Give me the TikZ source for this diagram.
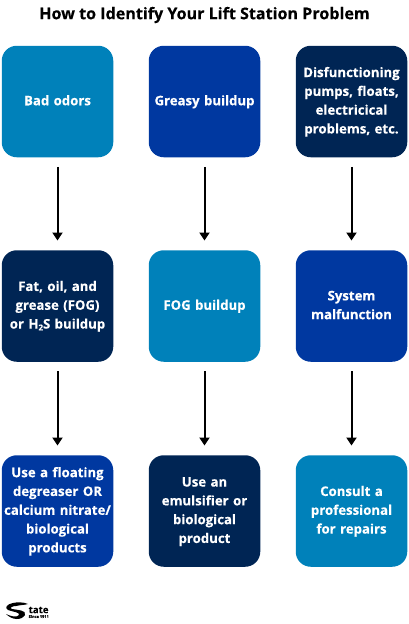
\documentclass[tikz,border=0pt]{standalone}
\usepackage{fontspec}
\setmainfont[BoldFeatures={FakeBold=0.25}]{Open Sans}
\usetikzlibrary{arrows.meta}
\definecolor{cyanb}{HTML}{0081BA}
\definecolor{royalb}{HTML}{0038A0}
\definecolor{navyb}{HTML}{002554}
\tikzset{
  x=1pt,y=-1pt,
  card/.style={minimum width=111.5pt,minimum height=111.5pt,rounded corners=15pt,inner sep=0pt,text=white,align=center,font=\fontsize{13.2}{18.8}\selectfont\bfseries,text width=110pt},
  flow/.style={draw=black,line width=2pt,-{Triangle[length=8pt,width=10pt]},shorten >=9.5pt,shorten <=9.5pt},
}
\newcommand{\subtwo}{\raisebox{-0.25ex}{\fontsize{8}{8}\selectfont 2}}
\begin{document}
\begin{tikzpicture}
\useasboundingbox (0,0) rectangle (408,624);
\node[font=\fontsize{16.1}{18}\selectfont\bfseries,text=black] (title) at (204.5,15) {How to Identify Your Lift Station Problem};
\node[card,fill=cyanb] (a1) at (57.5,101.5) {\strut Bad odors\strut};
\node[card,fill=royalb] (b1) at (204.5,101.5) {\strut Greasy buildup\strut};
\node[card,fill=navyb] (c1) at (351.5,101.5) {\strut Disfunctioning\\pumps, floats,\\electricical\\problems, etc.\strut};
\node[card,fill=navyb] (a2) at (57.5,306) {\strut Fat, oil, and\\grease (FOG)\\or H\subtwo S buildup\strut};
\node[card,fill=cyanb] (b2) at (204.5,306) {\strut FOG buildup\strut};
\node[card,fill=royalb] (c2) at (351.5,306) {\strut System\\malfunction\strut};
\node[card,fill=royalb] (a3) at (57.5,511) {\strut Use a floating\\degreaser OR\\calcium nitrate/\\biological\\products\strut};
\node[card,fill=navyb] (b3) at (204.5,511) {\strut Use an\\emulsifier or\\biological\\product\strut};
\node[card,fill=cyanb] (c3) at (351.5,511) {\strut Consult a\\professional\\for repairs\strut};
\foreach \p/\q in {a1/a2,b1/b2,c1/c2,a2/a3,b2/b3,c2/c3}{\draw[flow] (\p) -- (\q);}
% logo
\fill[black] (6,614) .. controls (12,620) and (21,621) .. (25,615) .. controls (27,610) and (17,610) .. (12,609) .. controls (9,608) and (12,606) .. (16,606) .. controls (20,605) and (25,605) .. (28,604) .. controls (24,602) and (17,602) .. (13,603) .. controls (7,604) and (4,608) .. (8,610) .. controls (13,612) and (20,612) .. (19,615) .. controls (17,618) and (10,616) .. (6,614) -- cycle;
\node[font=\fontsize{9.6}{10}\selectfont\bfseries,inner sep=0pt,anchor=west] (logoa) at (28.5,610) {tate};
\node[font=\fontsize{3.9}{4}\selectfont\bfseries,inner sep=0pt,anchor=west] (logob) at (28.5,616.5) {Since 1911};
\end{tikzpicture}
\end{document}
